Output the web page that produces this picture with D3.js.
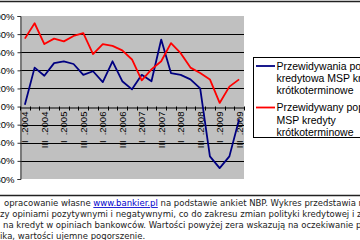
<!DOCTYPE html>
<html>
<head>
<meta charset="utf-8">
<script src="https://cdn.jsdelivr.net/npm/d3@7"></script>
<style>
  body { margin: 0; background: #fff; overflow: hidden; }
  svg { display: block; }
</style>
</head>
<body>
<svg width="360" height="240"></svg>
<script>
// Data: quarters I.2004 - III.2009
const categories = [
  "I.2004", "II.2004", "III.2004", "IV.2004",
  "I.2005", "II.2005", "III.2005", "IV.2005",
  "I.2006", "II.2006", "III.2006", "IV.2006",
  "I.2007", "II.2007", "III.2007", "IV.2007",
  "I.2008", "II.2008", "III.2008", "IV.2008",
  "I.2009", "II.2009", "III.2009"
];
// Przewidywania polityki kredytowej MSP (blue)
const policy = [2, 43, 34, 48, 50, 47, 35, 39, 27, 50, 28, 19,
                35, 28, 74, 37, 35, 30, 20, -55, -68, -55, -14];
// Przewidywany popyt MSP (red)
const demand = [75, 92, 69, 75, 72, 78, 81, 58, 69, 67, 62, 52,
                29, 41, 50, 70, 59, 43, 37, 30, 4, 22, 30];
const yTicks = [100, 80, 60, 40, 20, 0, -20, -40, -60, -80];
const seriesNames = [
  ["Przewidywania polityki", "kredytowa MSP kredyty", "krótkoterminowe"],
  ["Przewidywany popyt", "MSP kredyty", "krótkoterminowe"]
];
const seriesColors = ["#000080", "#ff0000"];
const footer = [
  "opracowanie własne ", "www.bankier.pl", " na podstawie ankiet NBP. Wykres przedstawia różnicę",
  "zy opiniami pozytywnymi i negatywnymi, co do zakresu zmian polityki kredytowej i zmian",
  "na kredyt w opiniach bankowców. Wartości powyżej zera wskazują na oczekiwanie poprawy",
  "ika, wartości ujemne pogorszenie."
];

const svg = d3.select("svg");

// chart frame lines
svg.append("line").attr("x1", 0).attr("x2", 360).attr("y1", 1.5).attr("y2", 1.5)
  .attr("stroke", "#222").attr("stroke-width", 1.5);
svg.append("line").attr("x1", 0).attr("x2", 360).attr("y1", 195.5).attr("y2", 195.5)
  .attr("stroke", "#222").attr("stroke-width", 1.5);

// scales
const x = d3.scaleBand().domain(categories).range([20, 244]).padding(0);
const y = d3.scaleLinear().domain([-80, 100]).range([179, 16]);
const cx = d => x(d) + x.bandwidth() / 2;

// plot area
svg.append("rect")
  .attr("x", 20).attr("y", y(100))
  .attr("width", 224).attr("height", y(-80) - y(100))
  .attr("fill", "#c0c0c0");

// gridlines
svg.append("g").selectAll("line")
  .data(yTicks.filter(v => v !== 100 && v !== -80 && v !== 0))
  .join("line")
  .attr("x1", 20).attr("x2", 244)
  .attr("y1", d => Math.round(y(d)) + 0.5).attr("y2", d => Math.round(y(d)) + 0.5)
  .attr("stroke", "#000").attr("stroke-width", 1);

// y axis
const yAxis = svg.append("g")
  .attr("transform", "translate(20.5,0)")
  .call(d3.axisLeft(y).tickValues(yTicks).tickSize(3).tickPadding(3)
    .tickFormat(d => d + "%"));
yAxis.select(".domain").attr("stroke", "#333");
yAxis.selectAll(".tick line").attr("stroke", "#333");
yAxis.selectAll("text")
  .attr("font-family", "'Liberation Sans', Arial, sans-serif")
  .attr("font-size", 9.5).attr("fill", "#000");

// x axis at zero
const xAxis = svg.append("g")
  .attr("transform", `translate(0,${Math.round(y(0)) + 0.5})`)
  .call(d3.axisBottom(x).tickSize(0).tickFormat(""));
xAxis.select(".domain").attr("stroke", "#000");
// category boundary ticks
xAxis.append("g").selectAll("line")
  .data(d3.range(categories.length + 1))
  .join("line")
  .attr("x1", i => Math.round(20 + i * x.bandwidth()) + 0.5)
  .attr("x2", i => Math.round(20 + i * x.bandwidth()) + 0.5)
  .attr("y1", -1).attr("y2", 3)
  .attr("stroke", "#000");

// rotated category labels (every other)
const labelled = categories.filter((c, i) => i % 2 === 0);
svg.append("g").selectAll("text")
  .data(labelled)
  .join("text")
  .attr("transform", d => `translate(${cx(d) + 3.5},${y(0) + 5}) rotate(-90)`)
  .attr("text-anchor", "end")
  .attr("font-family", "'Liberation Sans', Arial, sans-serif")
  .attr("font-size", 9.5).attr("fill", "#000")
  .each(function (d) {
    const [q, yr] = d.split(".");
    const t = d3.select(this);
    t.append("tspan").text(q);
    t.append("tspan").attr("dx", 5).text("." + yr);
  });

// lines
const line = d3.line().x((d, i) => cx(categories[i])).y(d => y(d));
[policy, demand].forEach((s, k) => {
  svg.append("path")
    .datum(s)
    .attr("d", line)
    .attr("fill", "none")
    .attr("stroke", seriesColors[k])
    .attr("stroke-width", 1.8)
    .attr("stroke-linejoin", "round");
});

// legend
svg.append("rect")
  .attr("x", 253.5).attr("y", 57.5).attr("width", 120).attr("height", 80)
  .attr("fill", "#fff").attr("stroke", "#000");
seriesNames.forEach((lines, k) => {
  const y0 = 66 + k * 41.5;
  svg.append("line")
    .attr("x1", 256).attr("x2", 275).attr("y1", y0).attr("y2", y0)
    .attr("stroke", seriesColors[k]).attr("stroke-width", 1.8);
  lines.forEach((t, j) => {
    svg.append("text")
      .attr("x", 276.5).attr("y", y0 + 3.8 + j * 12.3)
      .attr("font-family", "'Liberation Sans', Arial, sans-serif")
      .attr("font-size", 10.5).attr("fill", "#000")
      .text(t);
  });
});

// footer note
const note = svg.append("g")
  .attr("font-family", "'DejaVu Sans', Verdana, sans-serif")
  .attr("font-size", 8.5).attr("fill", "#222");
const l1 = note.append("text").attr("x", 4).attr("y", 206);
l1.append("tspan").text(footer[0]);
l1.append("tspan").attr("fill", "#0000cc").attr("text-decoration", "underline").text(footer[1]);
l1.append("tspan").text(footer[2]);
note.append("text").attr("x", 0).attr("y", 217).text(footer[3]);
note.append("text").attr("x", 3).attr("y", 228).text(footer[4]);
note.append("text").attr("x", 0).attr("y", 238.5).text(footer[5]);
</script>
</body>
</html>
